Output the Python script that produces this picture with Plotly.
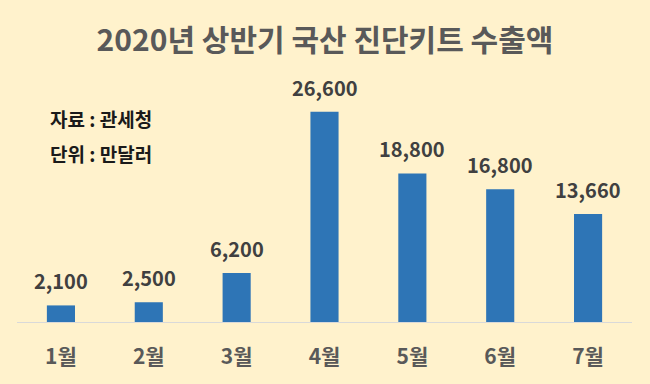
import plotly.graph_objects as go

months = ["1월", "2월", "3월", "4월", "5월", "6월", "7월"]
exports = [2100, 2500, 6200, 26600, 18800, 16800, 13660]
labels = [f"{v:,}" for v in exports]

font = "Noto Sans CJK KR"
bg = "#FFF2CC"

fig = go.Figure(go.Bar(
    x=months, y=exports,
    marker=dict(color="#2E75B6", line=dict(width=0)),
    width=0.32, hoverinfo="skip",
))

annotations = [
    dict(x=m, y=v, text=f"<b>{t}</b>", xref="x", yref="y", showarrow=False,
         xanchor="center", yanchor="bottom", yshift=8,
         font=dict(family=font, size=20, color="#404040"))
    for m, v, t in zip(months, exports, labels)
]

plot_w = 650 - 17 - 18
plot_h = 384 - 85 - 62
for txt, py in [("자료 : 관세청", 118), ("단위 : 만달러", 153)]:
    annotations.append(dict(text=f"<b>{txt}</b>", x=(48 - 17) / plot_w, y=(384 - 62 - py) / plot_h,
                            xref="paper", yref="paper", showarrow=False,
                            xanchor="left", yanchor="middle",
                            font=dict(family=font, size=19, color="#1A1A1A")))

fig.update_layout(
    width=650, height=384,
    paper_bgcolor=bg, plot_bgcolor=bg,
    margin=dict(l=17, r=18, t=85, b=62),
    showlegend=False,
    title=dict(text="<b>2020년 상반기 국산 진단키트 수출액</b>", x=0.5, xanchor="center",
               y=0.895, yanchor="middle",
               font=dict(family=font, size=30, color="#595959")),
    xaxis=dict(showline=True, linecolor="#D9D9D9", linewidth=1, ticks="",
               tickfont=dict(family=font, size=21, color="#595959", weight="bold"),
               showgrid=False, ticklabelstandoff=16),
    yaxis=dict(range=[0, 30000], visible=False, showgrid=False),
    annotations=annotations,
)

fig.write_html("out.html", config={"displayModeBar": False},
               post_script="document.body.style.margin='0';document.body.style.overflow='hidden';")
